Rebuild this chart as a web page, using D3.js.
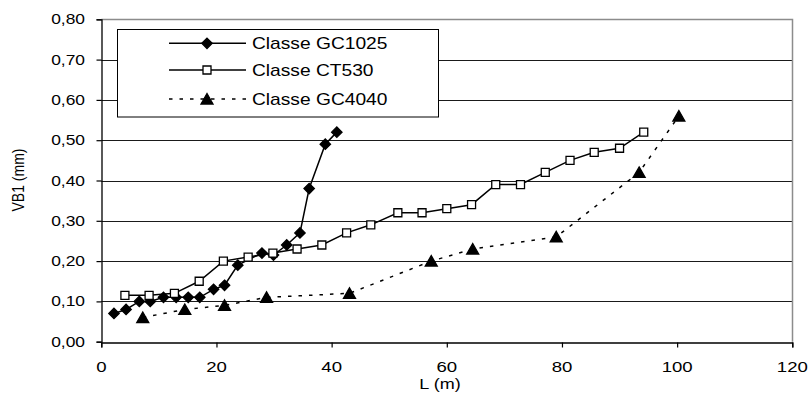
<!DOCTYPE html>
<html>
<head>
<meta charset="utf-8">
<script src="https://cdn.jsdelivr.net/npm/d3@7"></script>
<style>
  html, body { margin: 0; padding: 0; background: #fff; }
  svg { display: block; font-family: "Liberation Sans", Arial, sans-serif; }
</style>
</head>
<body>
<svg id="chart" width="812" height="396"></svg>
<script>
// Wear land VB1 (mm) against cutting length L (m) for three tool grades
const seriesNames = ["Classe GC1025", "Classe CT530", "Classe GC4040"];

const gc1025L = [2.2, 4.3, 6.6, 8.5, 10.8, 13.0, 15.1, 17.1, 19.5, 21.4, 23.7, 27.9, 29.9, 32.2, 34.5, 36.1, 38.9, 40.9];
const gc1025V = [0.07, 0.08, 0.10, 0.10, 0.11, 0.11, 0.11, 0.11, 0.13, 0.14, 0.19, 0.22, 0.215, 0.24, 0.27, 0.38, 0.49, 0.52];

const ct530L = [4.1, 8.3, 12.7, 17.0, 21.2, 25.5, 29.8, 34.0, 38.3, 42.6, 46.8, 51.5, 55.7, 60.0, 64.3, 68.5, 72.8, 77.1, 81.4, 85.6, 90.0, 94.2];
const ct530V = [0.115, 0.115, 0.12, 0.15, 0.20, 0.21, 0.22, 0.23, 0.24, 0.27, 0.29, 0.32, 0.32, 0.33, 0.34, 0.39, 0.39, 0.42, 0.45, 0.47, 0.48, 0.52];

const gc4040L = [7.2, 14.5, 21.4, 28.7, 43.1, 57.3, 64.5, 79.0, 93.4, 100.3];
const gc4040V = [0.06, 0.08, 0.09, 0.11, 0.12, 0.20, 0.23, 0.26, 0.42, 0.56];

const xTicks = [0, 20, 40, 60, 80, 100, 120];
const yTicks = [0, 0.1, 0.2, 0.3, 0.4, 0.5, 0.6, 0.7, 0.8];
const xTitle = "L (m)";
const yTitle = "VB1 (mm)";

const svg = d3.select("#chart");
const plot = { left: 101.3, right: 792.3, top: 19.3, bottom: 341.7 };
const sx = 1.2; // horizontal stretch of the lettering

const x = d3.scaleLinear().domain([0, 120]).range([plot.left, plot.right]);
const y = d3.scaleLinear().domain([0, 0.8]).range([plot.bottom, plot.top]);

const fmt = v => d3.format(".2f")(v).replace(".", ",");

// gridlines
svg.append("g").selectAll("line")
  .data(yTicks.filter(t => t > 0 && t < 0.8))
  .join("line")
  .attr("x1", plot.left).attr("x2", plot.right)
  .attr("y1", d => Math.round(y(d)) + 0.5).attr("y2", d => Math.round(y(d)) + 0.5)
  .attr("stroke", "#1a1a1a").attr("stroke-width", 1);

// plot frame (top and right)
svg.append("path")
  .attr("d", `M${plot.left},${Math.round(plot.top) + 0.5}H${Math.round(plot.right) + 0.5}V${plot.bottom}`)
  .attr("fill", "none").attr("stroke", "#8c8c8c").attr("stroke-width", 1.5);

// y axis
const yAxis = svg.append("g")
  .attr("transform", `translate(${Math.round(plot.left) + 0.5},0)`)
  .call(d3.axisLeft(y).tickValues(yTicks).tickSize(5).tickFormat(""));
yAxis.select(".domain").attr("stroke", "#000").attr("stroke-width", 1.3);
yAxis.selectAll(".tick line").attr("stroke", "#000").attr("stroke-width", 1.2);

// x axis
const xAxis = svg.append("g")
  .attr("transform", `translate(0,${Math.round(plot.bottom) + 0.5})`)
  .call(d3.axisBottom(x).tickValues(xTicks).tickSize(5).tickFormat(""));
xAxis.select(".domain").attr("stroke", "#000").attr("stroke-width", 1.3);
xAxis.selectAll(".tick line").attr("stroke", "#000").attr("stroke-width", 1.2);

// tick labels
svg.append("g").selectAll("text")
  .data(yTicks).join("text")
  .attr("transform", d => `translate(85,${y(d) + 5}) scale(${sx},1)`)
  .attr("text-anchor", "end")
  .attr("font-size", 14.5)
  .attr("fill", "#000")
  .text(fmt);

svg.append("g").selectAll("text")
  .data(xTicks).join("text")
  .attr("transform", d => `translate(${x(d)},${371.5}) scale(${sx},1)`)
  .attr("text-anchor", "middle")
  .attr("font-size", 15.5)
  .attr("fill", "#000")
  .text(d => d);

// axis titles
svg.append("text")
  .attr("transform", `translate(440,389) scale(${sx},1)`)
  .attr("text-anchor", "middle")
  .attr("font-size", 15)
  .text(xTitle);

svg.append("text")
  .attr("transform", `translate(24,180) rotate(-90) scale(1,${sx})`)
  .attr("text-anchor", "middle")
  .attr("font-size", 14)
  .text(yTitle);

// markers
const diamond = "M0,-5.2L5.2,0L0,5.2L-5.2,0Z";
const square = "M-4,-4H4V4H-4Z";
const triangle = "M0,-5.5L6,5L-6,5Z";

const series = [
  { name: seriesNames[0], L: gc1025L, V: gc1025V, dash: null, marker: diamond, fill: "#000" },
  { name: seriesNames[1], L: ct530L, V: ct530V, dash: null, marker: square, fill: "#fff" },
  { name: seriesNames[2], L: gc4040L, V: gc4040V, dash: "3.5,7", marker: triangle, fill: "#000" }
];

const line = d3.line().x(d => x(d[0])).y(d => y(d[1]));

// draw lines first so markers sit on top
series.forEach(s => {
  const pts = s.L.map((l, i) => [l, s.V[i]]);
  svg.append("path")
    .datum(pts)
    .attr("d", line)
    .attr("fill", "none")
    .attr("stroke", "#000")
    .attr("stroke-width", 1.5)
    .attr("stroke-dasharray", s.dash);
});
series.forEach(s => {
  const pts = s.L.map((l, i) => [l, s.V[i]]);
  svg.append("g").selectAll("path")
    .data(pts).join("path")
    .attr("transform", d => `translate(${x(d[0])},${y(d[1])})`)
    .attr("d", s.marker)
    .attr("fill", s.fill)
    .attr("stroke", "#000")
    .attr("stroke-width", 1.3);
});

// legend
const lg = svg.append("g");
lg.append("rect")
  .attr("x", 117.5).attr("y", 29.5).attr("width", 321).attr("height", 87.5)
  .attr("fill", "#fff").attr("stroke", "#000").attr("stroke-width", 1);

const rowY = [43.3, 70, 99];
series.forEach((s, i) => {
  const g = lg.append("g").attr("transform", `translate(0,${rowY[i]})`);
  g.append("line")
    .attr("x1", 169).attr("x2", 246).attr("y1", 0).attr("y2", 0)
    .attr("stroke", "#000").attr("stroke-width", 1.5)
    .attr("stroke-dasharray", s.dash);
  g.append("path")
    .attr("transform", "translate(207,0)")
    .attr("d", s.marker)
    .attr("fill", s.fill).attr("stroke", "#000").attr("stroke-width", 1.3);
  g.append("text")
    .attr("transform", `translate(252,6) scale(${sx},1)`)
    .attr("font-size", 16)
    .text(s.name);
});
</script>
</body>
</html>
